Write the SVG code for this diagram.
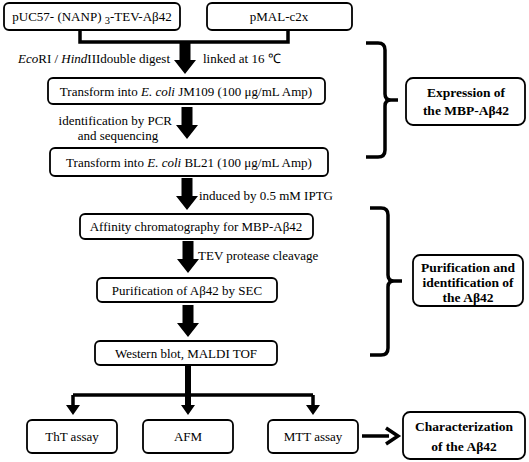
<svg xmlns="http://www.w3.org/2000/svg" xmlns:xlink="http://www.w3.org/1999/xlink" width="529" height="462" viewBox="0 0 529 462">
<defs>
<style>
.box{fill:#fff;stroke:#000;stroke-width:1.8}
text{font-family:"Liberation Serif","Times New Roman",serif;font-size:13px;fill:#000}
.c{text-anchor:middle}
.e{text-anchor:end}
.b{font-weight:bold;font-size:13.5px}
.i{font-style:italic}
.ln{fill:none;stroke:#000;stroke-width:3.5}
.br{fill:none;stroke:#000;stroke-width:3.5;stroke-linejoin:round}
</style>
<path id="bigArrow" d="M-5.5,0 H5.5 V18 H11 L0,32 L-11,18 H-5.5 Z" fill="#000"/>
</defs>
<rect width="529" height="462" fill="#fff"/>

<g id="connectors">
<path class="ln" d="M80,30 V42 H288 V30"/>
<use xlink:href="#bigArrow" x="185" y="42"/>
<use xlink:href="#bigArrow" x="187" y="107"/>
<use xlink:href="#bigArrow" x="187" y="178"/>
<use xlink:href="#bigArrow" x="188" y="241"/>
<use xlink:href="#bigArrow" x="188" y="305"/>
<path d="M188,366 V405" stroke="#000" stroke-width="6" fill="none"/>
<path class="ln" d="M73,395 H313"/>
<path class="ln" d="M73,395 V405 M313,395 V405"/>
<path d="M66,405 H80 L73,415 Z M181,405 H195 L188,415 Z M306,405 H320 L313,415 Z" fill="#000"/>
<path d="M362,436 H389" stroke="#000" stroke-width="3.5" fill="none"/>
<path d="M386,428 L398,436 L386,444" stroke="#000" stroke-width="3.5" fill="none"/>
</g>

<g id="labels">
<text x="18" y="63"><tspan class="i">Eco</tspan>RI / <tspan class="i">Hind</tspan>IIIdouble digest</text>
<text x="203" y="63">linked at 16  ℃</text>
<text class="e" x="172" y="125">identification by PCR</text>
<text class="c" x="118" y="140">and sequencing</text>
<text x="199" y="200">induced by 0.5 mM IPTG</text>
<text x="198" y="260">TEV protease cleavage</text>
</g>

<g id="n1">
<rect class="box" x="4" y="3" width="176" height="27" rx="5"/>
<text class="c" x="92" y="21" font-size="14">pUC57- (NANP) <tspan dy="3" font-size="10.5">3</tspan><tspan dy="-3">-TEV-Aβ42</tspan></text>
</g>
<g id="n2">
<rect class="box" x="207" y="3" width="145" height="27" rx="5"/>
<text class="c" x="279" y="21" font-size="14">pMAL-c2x</text>
</g>
<g id="n3">
<rect class="box" x="48" y="78" width="277" height="26" rx="5"/>
<text class="c" x="186" y="96">Transform into <tspan class="i">E. coli</tspan> JM109 (100 μg/mL Amp)</text>
</g>
<g id="n4">
<rect class="box" x="50" y="148" width="278" height="28" rx="5"/>
<text class="c" x="189" y="167">Transform into <tspan class="i">E. coli</tspan> BL21 (100 μg/mL Amp)</text>
</g>
<g id="n5">
<rect class="box" x="80" y="214" width="233" height="25" rx="5"/>
<text class="c" x="196" y="231">Affinity chromatography for MBP-Aβ42</text>
</g>
<g id="n6">
<rect class="box" x="97" y="278" width="180" height="24" rx="5"/>
<text class="c" x="187" y="295">Purification of Aβ42 by SEC</text>
</g>
<g id="n7">
<rect class="box" x="95" y="341" width="182" height="24" rx="5"/>
<text class="c" x="186" y="358">Western blot, MALDI TOF</text>
</g>
<g id="n8">
<rect class="box" x="27" y="420" width="90" height="33" rx="5"/>
<text class="c" x="72" y="441">ThT assay</text>
</g>
<g id="n9">
<rect class="box" x="143" y="420" width="90" height="33" rx="5"/>
<text class="c" x="188" y="441">AFM</text>
</g>
<g id="n10">
<rect class="box" x="268" y="420" width="90" height="33" rx="5"/>
<text class="c" x="313" y="441">MTT assay</text>
</g>

<g id="bracket1">
<path class="br" d="M366,43 H378 Q385,43 385,50 V94 Q385,100 391,100 H398 M391,100 Q385,100 385,106 V150 Q385,157 378,157 H366"/>
</g>
<g id="n11">
<rect class="box" x="406" y="78" width="119" height="47" rx="7"/>
<text class="c b" x="466" y="97">Expression of</text>
<text class="c b" x="466" y="115">the MBP-Aβ42</text>
</g>

<g id="bracket2">
<path class="br" d="M370,208 H381 Q388,208 388,215 V275 Q388,281 394,281 H402 M394,281 Q388,281 388,287 V348 Q388,355 381,355 H370"/>
</g>
<g id="n12">
<rect class="box" x="413" y="255" width="110" height="51" rx="7"/>
<text class="c b" x="468" y="272">Purification and</text>
<text class="c b" x="468" y="287">identification of</text>
<text class="c b" x="468" y="302">the Aβ42</text>
</g>

<g id="n13">
<rect class="box" x="403" y="412" width="122" height="47" rx="7"/>
<text class="c b" x="464" y="431">Characterization</text>
<text class="c b" x="464" y="451">of  the Aβ42</text>
</g>
</svg>
